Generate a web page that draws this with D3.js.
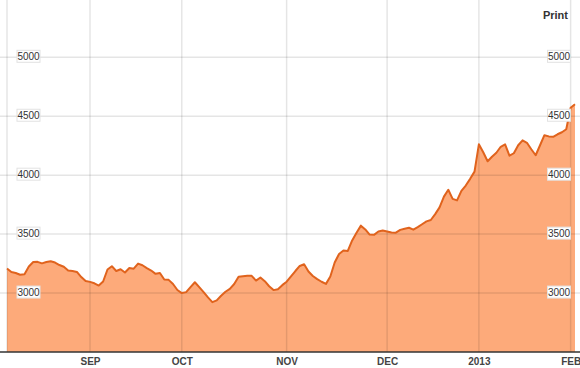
<!DOCTYPE html>
<html>
<head>
<meta charset="utf-8">
<script src="https://cdn.jsdelivr.net/npm/d3@7"></script>
<style>
  body { margin: 0; background: #fff; }
  svg { display: block; font-family: "Liberation Sans", Arial, sans-serif; }
</style>
</head>
<body>
<div id="chart"></div>
<script>
// daily closes, one per trading session (index 0 = first session shown)
var closes = [
  3208, 3179, 3170, 3155, 3160, 3225, 3263, 3265, 3252, 3263,
  3270, 3259, 3238, 3223, 3191, 3187, 3179, 3136, 3102, 3095,
  3083, 3064, 3098, 3200, 3228, 3187, 3202, 3174, 3212, 3207,
  3250, 3236, 3212, 3191, 3163, 3170, 3115, 3112, 3077, 3026,
  3000, 3008, 3051, 3092, 3050, 3008, 2963, 2923, 2938, 2977,
  3011, 3036, 3077, 3138, 3142, 3146, 3146, 3106, 3132, 3101,
  3058, 3025, 3033, 3067, 3096, 3142, 3187, 3230, 3244, 3183,
  3145, 3118, 3096, 3078, 3140, 3259, 3332, 3361, 3357, 3446,
  3512, 3572, 3540, 3496, 3494, 3522, 3530, 3523, 3514, 3512,
  3536, 3546, 3554, 3538, 3559, 3584, 3608, 3620, 3670, 3727,
  3818, 3876, 3799, 3786, 3867, 3912, 3969, 4030, 4262, 4194,
  4118, 4156, 4190, 4241, 4261, 4165, 4186, 4254, 4296, 4275,
  4220, 4169, 4254, 4339, 4329, 4325, 4347, 4364, 4390, 4572,
  4602
];

// first session of each month on the axis
var monthLabels = ['SEP', 'OCT', 'NOV', 'DEC', '2013', 'FEB'];
var monthStart = [19, 40, 64, 87, 108, 129];

var yTicks = [3000, 3500, 4000, 4500, 5000];

var W = 580, H = 368;
var left = 7, right = 575, bottom = 352;

var svg = d3.select('#chart').append('svg').attr('width', W).attr('height', H);

var x = d3.scaleLinear().domain([0, closes.length - 1]).range([left, right]);
var y = d3.scaleLinear().domain([2500, 5000]).range([bottom, 57.3]);

var area = d3.area()
  .x(function (d, i) { return x(i); })
  .y0(bottom)
  .y1(function (d) { return y(d); });

var line = d3.line()
  .x(function (d, i) { return x(i); })
  .y(function (d) { return y(d); });

svg.append('path').datum(closes)
  .attr('d', area)
  .attr('fill', '#fdaa7a');

// grid on top of the fill so it shows through faintly
var grid = svg.append('g');
grid.selectAll('line.h').data(yTicks).enter().append('line')
  .attr('x1', 0).attr('x2', W)
  .attr('y1', function (d) { return y(d); })
  .attr('y2', function (d) { return y(d); })
  .attr('stroke', 'rgba(0,0,0,0.1)').attr('stroke-width', 1.5);

grid.selectAll('line.v').data([0].concat(monthStart)).enter().append('line')
  .attr('x1', function (d) { return x(d); })
  .attr('x2', function (d) { return x(d); })
  .attr('y1', 0).attr('y2', bottom)
  .attr('stroke', 'rgba(0,0,0,0.1)').attr('stroke-width', 1.5);

svg.append('path').datum(closes)
  .attr('d', line)
  .attr('fill', 'none')
  .attr('stroke', '#e0631d')
  .attr('stroke-width', 2)
  .attr('stroke-linejoin', 'round');

// bottom axis
var xAxis = d3.axisBottom(x)
  .tickValues(monthStart)
  .tickFormat(function (d, i) { return monthLabels[i]; })
  .tickSize(0).tickPadding(6);

var ax = svg.append('g').attr('transform', 'translate(0,' + bottom + ')').call(xAxis);
ax.select('.domain').remove();
ax.selectAll('text')
  .attr('font-size', '10px').attr('font-weight', 'bold')
  .attr('fill', '#444').attr('font-family', '"Liberation Sans", Arial, sans-serif');

svg.append('line')
  .attr('x1', 0).attr('x2', W)
  .attr('y1', bottom).attr('y2', bottom)
  .attr('stroke', '#333').attr('stroke-width', 1.5);

// boxed value labels on both sides
function yLabels(cx) {
  var g = svg.append('g').selectAll('g').data(yTicks).enter().append('g')
    .attr('transform', function (d) { return 'translate(' + cx + ',' + y(d) + ')'; });
  g.append('rect')
    .attr('x', -11.5).attr('y', -7)
    .attr('width', 23).attr('height', 12)
    .attr('fill', '#fff').attr('stroke', '#e2e2e2').attr('stroke-width', 1);
  g.append('text')
    .attr('text-anchor', 'middle').attr('y', 3)
    .attr('font-size', '10px').attr('fill', '#333')
    .text(function (d) { return d; });
}
yLabels(28.5);
yLabels(559);

svg.append('text')
  .attr('x', 568).attr('y', 19)
  .attr('text-anchor', 'end')
  .attr('font-size', '11px').attr('font-weight', 'bold').attr('fill', '#333')
  .text('Print');
</script>
</body>
</html>
